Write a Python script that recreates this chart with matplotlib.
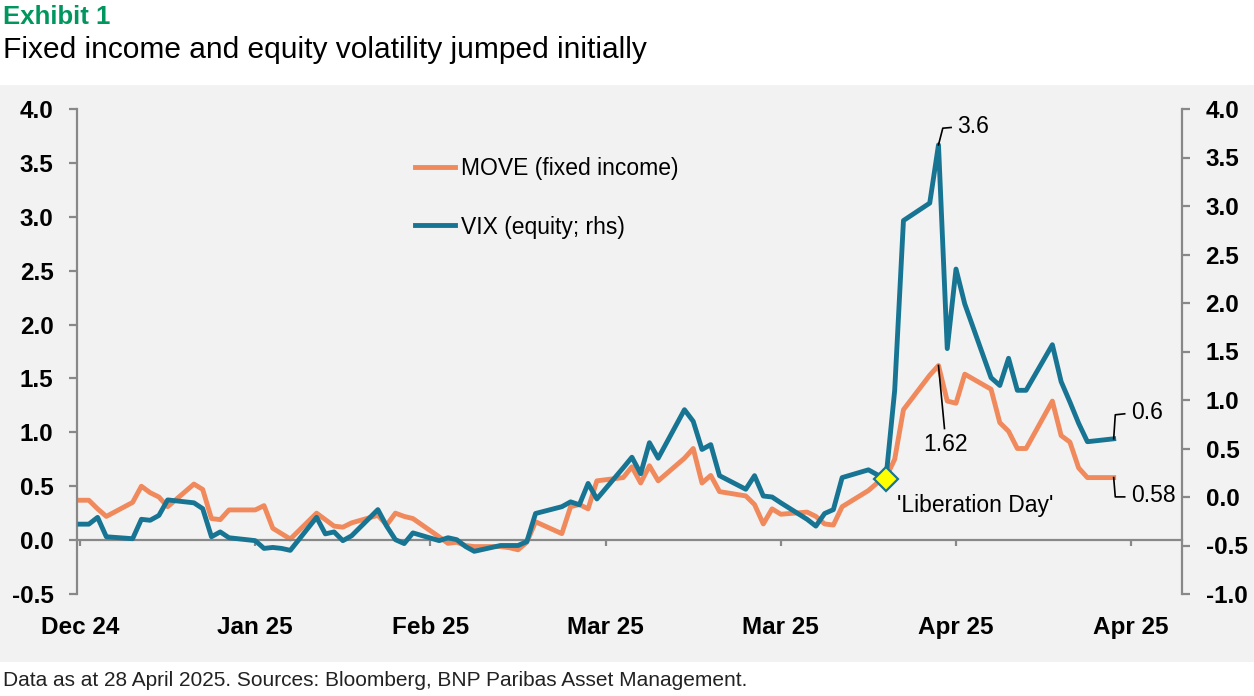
#gráfico de volatilidade: MOVE (renda fixa) e VIX (ações)
import pandas as pd
import numpy as np
import matplotlib
matplotlib.use('Agg')
import matplotlib.pyplot as plt
import matplotlib.dates as mdates
from matplotlib.patches import Rectangle
from matplotlib.lines import Line2D

plt.rcParams['font.family'] = ['Liberation Sans', 'DejaVu Sans']

#dados (dias úteis de 31/12/2024 a 28/04/2025)
datas = pd.bdate_range('2024-12-31', '2025-04-28')

move = [0.37, 0.37, 0.29, 0.22,
        0.35, 0.50, 0.44, 0.40, 0.31,
        0.52, 0.47, 0.20, 0.19, 0.28,
        0.28, 0.32, 0.11, 0.06, 0.01,
        0.25, 0.19, 0.13, 0.12, 0.16,
        0.23, 0.14, 0.25, 0.22, 0.20,
        0.03, -0.03, -0.02, -0.05, -0.06,
        -0.06, -0.07, -0.09, -0.02, 0.17,
        0.06, 0.31, 0.33, 0.29, 0.55,
        0.58, 0.68, 0.53, 0.69, 0.55,
        0.76, 0.85, 0.53, 0.60, 0.45,
        0.41, 0.33, 0.15, 0.29, 0.24,
        0.26, 0.22, 0.15, 0.14, 0.31,
        0.46, 0.53, 0.58, 0.75, 1.21,
        1.53, 1.62, 1.29, 1.27, 1.54,
        1.40, 1.09, 1.01, 0.85, 0.85,
        1.29, 0.97, 0.91, 0.67, 0.58,
        0.58]

vix = [-0.28, -0.28, -0.21, -0.41,
       -0.43, -0.23, -0.24, -0.19, -0.03,
       -0.06, -0.12, -0.41, -0.36, -0.42,
       -0.45, -0.53, -0.52, -0.53, -0.55,
       -0.21, -0.38, -0.36, -0.45, -0.40,
       -0.13, -0.30, -0.44, -0.48, -0.37,
       -0.45, -0.42, -0.44, -0.51, -0.56,
       -0.50, -0.50, -0.50, -0.46, -0.17,
       -0.10, -0.05, -0.08, 0.14, -0.02,
       0.30, 0.41, 0.24, 0.56, 0.40,
       0.90, 0.78, 0.49, 0.54, 0.22,
       0.08, 0.22, 0.01, 0.00, -0.06,
       -0.23, -0.30, -0.17, -0.13, 0.20,
       0.28, 0.23, 0.19, 1.10, 2.85,
       3.03, 3.63, 1.53, 2.35, 1.99,
       1.23, 1.15, 1.43, 1.10, 1.10,
       1.57, 1.19, 0.98, 0.76, 0.57,
       0.60]

datas_ticks = pd.date_range('2024-12-31', periods=7, freq='20D')
rotulos_x = ['Dec 24', 'Jan 25', 'Feb 25', 'Mar 25', 'Mar 25', 'Apr 25', 'Apr 25']
dia_liberacao = pd.Timestamp('2025-04-02')

laranja = '#f0895c'
azul = '#177593'
cinza = '#888888'
verde = '#00965e'

fig = plt.figure(figsize=(12.54, 6.96), dpi=100)
W, H = 1254, 696

#fundo cinza do gráfico
fig.patches.append(Rectangle((0, 1 - 662 / H), 1, (662 - 85) / H, transform=fig.transFigure,
                             facecolor='#f2f2f2', edgecolor='none', zorder=-1))

ax = fig.add_axes([77 / W, 1 - 594 / H, 1105 / W, 485 / H])
ax.set_facecolor('none')
ax2 = ax.twinx()

d0 = mdates.date2num(datas[0])
ax.set_xlim(d0 - 0.35, d0 + 125.8)

l1, = ax.plot(datas, move, color=laranja, lw=3.5, label='MOVE (fixed income)')
l2, = ax2.plot(datas, vix, color=azul, lw=3.5, label='VIX (equity; rhs)')
i_lib = list(datas).index(dia_liberacao)
ax2.plot([datas[i_lib]], [vix[i_lib]], marker='D', ms=12, mfc='#ffff00', mec=azul, mew=1.6, zorder=5)

ax.set_ylim(-0.5, 4.0)
ax.set_yticks(np.arange(-0.5, 4.01, 0.5))
ax.set_yticklabels([f'{v:.1f}' for v in np.arange(-0.5, 4.01, 0.5)])
ax2.set_ylim(-1.0, 4.0)
ax2.set_yticks(np.arange(-1.0, 4.01, 0.5))
ax2.set_yticklabels([f'{v:.1f}' for v in np.arange(-1.0, 4.01, 0.5)])

for s in ['top', 'right']:
    ax.spines[s].set_visible(False)
for s in ['top', 'left', 'bottom']:
    ax2.spines[s].set_visible(False)
ax.spines['bottom'].set_position(('data', 0))
for sp in [ax.spines['left'], ax.spines['bottom'], ax2.spines['right']]:
    sp.set_color(cinza)
    sp.set_linewidth(1.6)

ax.set_xticks(datas_ticks)
ax.set_xticklabels(rotulos_x, fontweight='bold')
ax.tick_params(axis='x', direction='out', length=4.5, width=1.6, color=cinza,
               labelsize=17.5, pad=50)
ax.tick_params(axis='y', direction='out', length=6, width=1.6, color=cinza,
               labelsize=17.5, pad=11)
ax2.tick_params(axis='y', direction='out', length=6, width=1.6, color=cinza,
                labelsize=17.5, pad=11)
for t in ax.get_yticklabels() + ax2.get_yticklabels():
    t.set_fontweight('bold')

#legenda
ax2.legend(handles=[l1, l2], loc='upper left', bbox_to_anchor=(415 / W, 1 - 157 / H),
           bbox_transform=fig.transFigure, frameon=False, fontsize=16.5,
           handlelength=1.75, handletextpad=0.25, labelspacing=1.55, borderpad=0,
           borderaxespad=0)

#anotações com linhas de chamada (deslocamentos em pixels)
def chamada(eixo, x, y, desloc, texto, pos_texto, ha='left'):
    px, py = eixo.transData.transform((mdates.date2num(x), y))
    xs = [(px + dx) / W for dx, dy in desloc]
    ys = [(py + dy) / H for dx, dy in desloc]
    fig.add_artist(Line2D(xs, ys, transform=fig.transFigure, color='black', lw=1.2))
    fig.text((px + pos_texto[0]) / W, (py + pos_texto[1]) / H, texto,
             fontsize=16.5, ha=ha, va='center')

i_max = int(np.argmax(vix))
chamada(ax2, datas[i_max], vix[i_max], [(0, 0), (4.3, 16.7), (12.6, 17.4)], '3.6', (19, 18.5))
i_mmax = int(np.argmax(move))
chamada(ax, datas[i_mmax], move[i_mmax], [(0, 0), (6, -63)], '1.62', (7, -79), ha='center')
chamada(ax2, datas[-1], vix[-1], [(0, 0), (1.6, 24), (11, 25)], '0.6', (17.5, 26))
chamada(ax, datas[-1], move[-1], [(0, 0), (1.6, -19.3), (11, -19.3)], '0.58', (17.3, -17.6))
chamada(ax2, datas[i_lib], vix[i_lib], [(0, 0)], "'Liberation Day'", (89, -27), ha='center')

#títulos e rodapé
fig.text(3 / W, 1 - 17 / H, 'Exhibit 1', color=verde, fontsize=18.5, fontweight='bold', va='center')
fig.text(3 / W, 1 - 50 / H, 'Fixed income and equity volatility jumped initially', fontsize=21.5, va='center')
fig.text(3 / W, 1 - 681 / H, 'Data as at 28 April 2025. Sources: Bloomberg, BNP Paribas Asset Management.',
         fontsize=15, va='center', color='#222222')

fig.savefig('out.png', dpi=100)
